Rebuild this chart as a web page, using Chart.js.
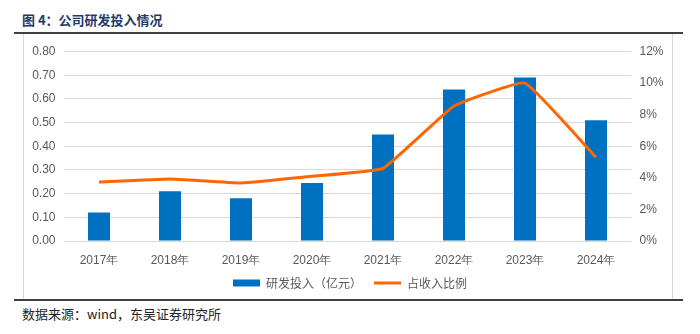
<!DOCTYPE html>
<html>
<head>
<meta charset="utf-8">
<script src="https://cdn.jsdelivr.net/npm/chart.js@4/dist/chart.umd.min.js"></script>
<style>
  html, body { margin: 0; padding: 0; background: #fff; }
  body { width: 700px; height: 334px; position: relative; overflow: hidden; }
  #title {
    position: absolute; left: 22px; top: 10px;
    font: bold 13px "Noto Sans CJK SC", sans-serif; color: #1F3A6A;
    white-space: nowrap;
  }
  .rule { position: absolute; left: 14px; width: 669px; height: 2px; background: #404040; }
  .side { position: absolute; top: 34px; width: 1px; height: 266px; background: #D9D9D9; }
  #source {
    position: absolute; left: 22px; top: 304px;
    font: 13px "Noto Sans CJK SC", sans-serif; color: #222;
    white-space: nowrap;
  }
  #wrap { position: absolute; left: 0; top: 0; width: 700px; height: 334px; }
</style>
</head>
<body>
<div id="title">图 4：公司研发投入情况</div>
<div class="rule" style="top:32px"></div>
<div class="side" style="left:23px"></div>
<div class="side" style="left:672px"></div>
<div class="rule" style="top:299px"></div>
<div id="source">数据来源：wind，东吴证券研究所</div>
<div id="wrap"><canvas id="myChart"></canvas></div>

<script>
// 年份
const years = ['2017年', '2018年', '2019年', '2020年', '2021年', '2022年', '2023年', '2024年'];
// 研发投入（亿元）
const rdSpend = [0.12, 0.21, 0.18, 0.245, 0.45, 0.64, 0.69, 0.51];
// 占收入比例（%）
const rdRatio = [3.74, 3.93, 3.68, 4.1, 4.6, 8.55, 10.0, 5.3];

const tickFont = { family: '"Liberation Sans", Arial, sans-serif', size: 12 };
const tickColor = '#595959';

const ctx = document.getElementById('myChart').getContext('2d');

new Chart(ctx, {
  type: 'bar',
  data: {
    labels: years,
    datasets: [
      {
        label: '研发投入（亿元）',
        data: rdSpend,
        backgroundColor: '#0070C0',
        borderWidth: 0,
        pointStyle: 'rect',
        yAxisID: 'y',
        barPercentage: 0.31,
        categoryPercentage: 1,
        order: 2,
      },
      {
        type: 'line',
        label: '占收入比例',
        data: rdRatio,
        borderColor: '#FF6600',
        backgroundColor: '#FF6600',
        borderWidth: 3,
        pointRadius: 0,
        pointStyle: 'line',
        tension: 0.1,
        yAxisID: 'y1',
        order: 1,
      },
    ],
  },
  options: {
    responsive: true,
    maintainAspectRatio: false,
    animation: false,
    layout: { padding: { top: 51.5, bottom: 35, left: 0, right: 0 } },
    scales: {
      x: {
        grid: { display: false },
        border: { display: false },
        ticks: { font: tickFont, color: tickColor, padding: 4, maxRotation: 0 },
        afterFit: (s) => { s.height = 24; },
      },
      y: {
        position: 'left',
        min: 0,
        max: 0.8,
        ticks: {
          stepSize: 0.1,
          font: tickFont,
          color: tickColor,
          padding: 8,
          callback: (v) => v.toFixed(2),
        },
        grid: { color: '#D9D9D9', lineWidth: 1, drawTicks: false },
        border: { display: false },
        afterFit: (s) => { s.width = 63.5; },
      },
      y1: {
        position: 'right',
        min: 0,
        max: 12,
        ticks: {
          stepSize: 2,
          font: tickFont,
          color: tickColor,
          padding: 8,
          callback: (v) => v + '%',
        },
        grid: { display: false, drawTicks: false },
        border: { display: false },
        afterFit: (s) => { s.width = 68.5; },
      },
    },
    plugins: {
      legend: {
        position: 'bottom',
        labels: {
          usePointStyle: true,
          pointStyleWidth: 27,
          boxHeight: 7,
          padding: 12,
          color: tickColor,
          font: { family: '"Noto Sans CJK SC", sans-serif', size: 12 },
          sort: (a, b) => a.datasetIndex - b.datasetIndex,
        },
      },
      tooltip: { enabled: false },
    },
  },
});
</script>
</body>
</html>
